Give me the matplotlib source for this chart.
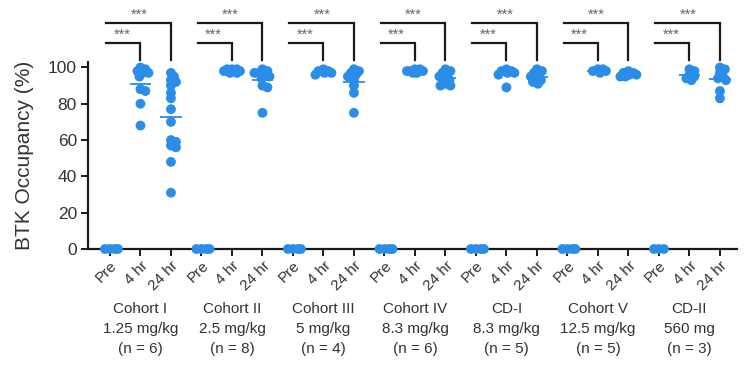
import numpy as np
import matplotlib
matplotlib.use("Agg")
import matplotlib.pyplot as plt

plt.rcParams["font.family"] = ["Liberation Sans", "DejaVu Sans"]

# ---- data ----
groups = ["Cohort I\n1.25 mg/kg\n(n = 6)", "Cohort II\n2.5 mg/kg\n(n = 8)",
          "Cohort III\n5 mg/kg\n(n = 4)", "Cohort IV\n8.3 mg/kg\n(n = 6)",
          "CD-I\n8.3 mg/kg\n(n = 5)", "Cohort V\n12.5 mg/kg\n(n = 5)",
          "CD-II\n560 mg\n(n = 3)"]
timepoints = ["Pre", "4 hr", "24 hr"]

pre_values = [
    [0, 0, 0, 0],
    [0, 0, 0, 0],
    [0, 0, 0, 0],
    [0, 0, 0, 0],
    [0, 0, 0, 0],
    [0, 0, 0, 0],
    [0, 0, 0],
]
hr4_values = [
    [100, 99, 98, 97, 97, 95, 88, 87, 80, 68],
    [99, 99, 98, 98, 97, 97, 99, 98],
    [99, 98, 98, 97, 97, 96],
    [99, 98, 98, 97, 97, 98, 99],
    [99, 98, 98, 97, 97, 96, 89],
    [99, 99, 98, 98, 97],
    [99, 98, 96, 95, 94, 93],
]
hr24_values = [
    [97, 95, 93, 92, 90, 86, 83, 77, 70, 60, 59, 57, 56, 48, 31],
    [99, 98, 97, 97, 96, 95, 94, 90, 89, 75],
    [99, 98, 97, 96, 95, 93, 90, 86, 75],
    [99, 98, 97, 96, 95, 94, 93, 91, 90, 90],
    [99, 98, 97, 96, 95, 94, 93, 92, 91],
    [98, 97, 97, 96, 96, 95, 95],
    [100, 99, 97, 95, 94, 93, 87, 83],
]
significance = "***"

# ---- figure ----
W, H, DPI = 747, 367, 100
fig = plt.figure(figsize=(W / DPI, H / DPI), dpi=DPI)
ax = fig.add_axes([88 / W, 118 / H, (737 - 88) / W, (249 - 62) / H])

ncat = len(groups) * 3
xlim = (-0.72, ncat - 1 + 0.56)
ylim = (0, 103)
ax.set_xlim(*xlim)
ax.set_ylim(*ylim)

px_per_x = (737 - 88) / (xlim[1] - xlim[0])
px_per_y = (249 - 62) / (ylim[1] - ylim[0])

blue = "#2a8de8"
dark = "#1a1a1a"
txt = "#333333"


def swarm(values, dmin=4.5, maxoff=8.0):
    """Compact beeswarm: x offsets (data units), limited horizontal spread."""
    vals = np.asarray(values, float)
    order = np.argsort(-vals)
    placed = []
    offs = np.zeros(len(vals))
    step = 1.0
    cands = [0.0]
    k = 1
    while k * step <= maxoff:
        cands += [k * step, -k * step]
        k += 1
    for i in order:
        yp = vals[i] * px_per_y
        best, bestd = 0.0, -1.0
        chosen = None
        for c in cands:
            d = min([np.hypot(c - xo, yp - yo) for (xo, yo) in placed],
                    default=1e9)
            if d >= dmin:
                chosen = c
                break
            if d > bestd:
                best, bestd = c, d
        if chosen is None:
            chosen = best
        offs[i] = chosen / px_per_x
        placed.append((chosen, yp))
    return offs


pos = 0
for g in range(len(groups)):
    for series in (pre_values[g], hr4_values[g], hr24_values[g]):
        off = swarm(series)
        ax.scatter(pos + off, series, s=50, color=blue, edgecolors="none",
                   zorder=3, clip_on=False)
        if series is not pre_values[g]:
            m = np.mean(series)
            ax.plot([pos - 0.35, pos + 0.35], [m, m], color=blue, lw=1.3,
                    zorder=4, solid_capstyle="butt")
        pos += 1

# significance brackets
for g in range(len(groups)):
    p0 = g * 3
    # lower: Pre vs 4 hr
    ax.plot([p0 - 0.12, p0 + 1, p0 + 1], [113.5, 113.5, 104], color=dark,
            lw=1.6, clip_on=False, solid_joinstyle="miter")
    ax.text(p0 + 0.4, 114.0, significance, ha="center", va="bottom",
            fontsize=10.5, color="#666666", clip_on=False)
    # upper: Pre vs 24 hr
    ax.plot([p0 - 0.12, p0 + 2, p0 + 2], [124.5, 124.5, 104], color=dark,
            lw=1.6, clip_on=False, solid_joinstyle="miter")
    ax.text(p0 + 0.95, 125.0, significance, ha="center", va="bottom",
            fontsize=10.5, color="#666666", clip_on=False)

# axes styling
for s in ("top", "right"):
    ax.spines[s].set_visible(False)
for s in ("left", "bottom"):
    ax.spines[s].set_color(dark)
    ax.spines[s].set_linewidth(1.6)

ax.set_yticks([0, 20, 40, 60, 80, 100])
ax.tick_params(axis="y", labelsize=12.5, colors=dark, labelcolor=txt,
               length=5, width=1.4, pad=3)
ax.set_xticks(np.arange(ncat))
ax.set_xticklabels(timepoints * len(groups), rotation=45, ha="right",
                   rotation_mode="anchor", fontsize=11, color=txt)
ax.tick_params(axis="x", colors=dark, labelcolor=txt, length=5, width=1.4,
               pad=2)

ax.set_ylabel("BTK Occupancy (%)", fontsize=15, color=txt, labelpad=10)

# group labels
for g, lab in enumerate(groups):
    xc = g * 3 + 1
    xf = (88 + (xc - xlim[0]) * px_per_x) / W
    fig.text(xf, 1 - 302 / H, lab, ha="center", va="top", fontsize=11,
             color=txt, linespacing=1.55)

fig.savefig("out.png", dpi=DPI)
